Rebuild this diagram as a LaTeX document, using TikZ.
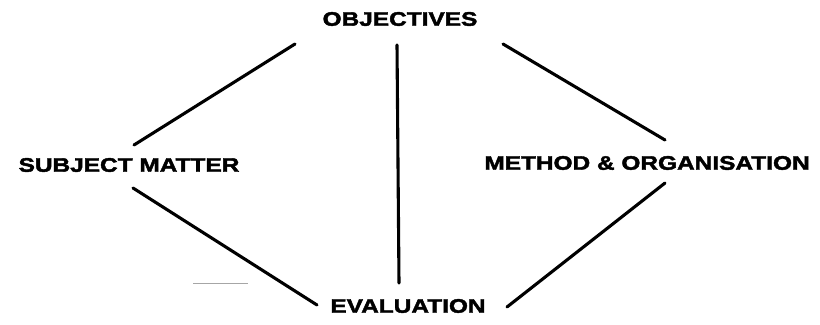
\documentclass[tikz,border=0pt]{standalone}
\usepackage{fontspec}
\newfontfamily\topicfont[FakeStretch=1.25,BoldFeatures={FakeStretch=1.25,FakeBold=2.2}]{Liberation Sans}
\usepackage{tikz}
\usetikzlibrary{arrows.meta,positioning,calc}

\begin{document}
\begin{tikzpicture}[
  x=0.025cm, y=0.025cm,
  topic/.style={inner sep=0pt, font=\topicfont\bfseries\fontsize{13.9}{16}\selectfont},
  link/.style={draw, line width=2.2pt, line cap=round},
  smudge/.style={draw=black!35, line width=0.6pt}]

\useasboundingbox (0,0) rectangle (820,324);

% ================= the four topics ========================================
\node[topic] (obj)  at (400,305) {OBJECTIVES};
\node[topic] (subj) at (129,159) {SUBJECT MATTER};
\node[topic] (meth) at (647,161) {METHOD \& ORGANISATION};
\node[topic] (eval) at (408,18)  {EVALUATION};

% ================= links ==================================================
\draw[link] ([shift={(5,20)}]subj.center)   -- ([shift={(-105,-25)}]obj.center);
\draw[link] ([shift={(103,-25)}]obj.center) -- ([shift={(18,23)}]meth.center);
\draw[link] ([shift={(4,-23)}]subj.center)  -- ([shift={(-91,1)}]eval.center);
\draw[link] ([shift={(-3,-26)}]obj.center)  -- ([shift={(-9,23)}]eval.center);
\draw[link] ([shift={(99,-1)}]eval.center)  -- ([shift={(18,-20)}]meth.center);

% faint stray stroke left of the evaluation link
\draw[smudge] (193,41) -- (248,41);

\end{tikzpicture}
\end{document}
